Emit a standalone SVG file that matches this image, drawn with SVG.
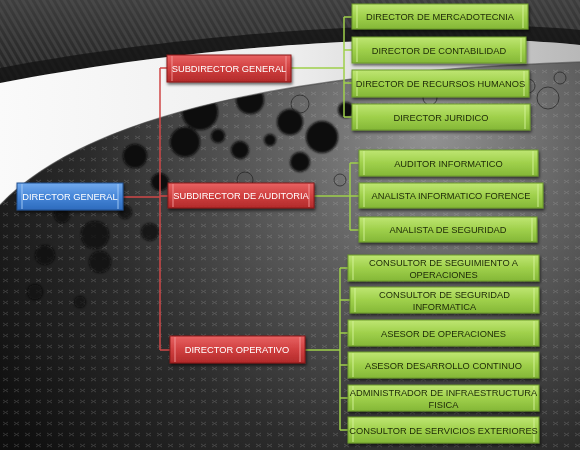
<svg xmlns="http://www.w3.org/2000/svg" width="580" height="450" viewBox="0 0 580 450">
<defs>
<radialGradient id="bgRad" cx="430" cy="130" r="520" gradientUnits="userSpaceOnUse">
<stop offset="0" stop-color="#939393"/>
<stop offset="0.3" stop-color="#606060"/>
<stop offset="0.65" stop-color="#2c2c2c"/>
<stop offset="1" stop-color="#0e0e0e"/>
</radialGradient>
<linearGradient id="topG" x1="0" y1="0" x2="0" y2="1">
<stop offset="0" stop-color="#3e3e3e"/>
<stop offset="1" stop-color="#202020"/>
</linearGradient>
<linearGradient id="whiteG" x1="0" y1="0" x2="1" y2="0">
<stop offset="0" stop-color="#fafafa"/>
<stop offset="0.5" stop-color="#eeeeee"/>
<stop offset="1" stop-color="#b8b8b8"/>
</linearGradient>
<pattern id="tex" width="11" height="11" patternUnits="userSpaceOnUse">
<path d="M3,4 L8,7 M8,4 L3,7" stroke="#bdbdbd" stroke-width="1" opacity="0.22"/>
</pattern>
<pattern id="stripes" width="6" height="6" patternUnits="userSpaceOnUse" patternTransform="rotate(-30)">
<rect width="3" height="6" fill="#5a5a5a" opacity="0.35"/>
</pattern>
<linearGradient id="gG" x1="0" y1="0" x2="0" y2="1">
<stop offset="0" stop-color="#bfe673"/>
<stop offset="0.5" stop-color="#9fd04b"/>
<stop offset="1" stop-color="#84b737"/>
</linearGradient>
<linearGradient id="rG" x1="0" y1="0" x2="0" y2="1">
<stop offset="0" stop-color="#e86262"/>
<stop offset="0.5" stop-color="#d04040"/>
<stop offset="1" stop-color="#b22a2a"/>
</linearGradient>
<linearGradient id="bG" x1="0" y1="0" x2="0" y2="1">
<stop offset="0" stop-color="#72aaee"/>
<stop offset="0.5" stop-color="#4686d8"/>
<stop offset="1" stop-color="#2d6bbd"/>
</linearGradient>
<filter id="sh" x="-10%" y="-30%" width="120%" height="170%">
<feDropShadow dx="1" dy="2" stdDeviation="1.5" flood-color="#000" flood-opacity="0.6"/>
</filter>
<filter id="soft"><feGaussianBlur stdDeviation="1.2"/></filter>
</defs>
<style>
.g rect{fill:url(#gG);stroke:#6c9a2a;stroke-width:1}
.r rect{fill:url(#rG);stroke:#8a1c1c;stroke-width:1}
.b rect{fill:url(#bG);stroke:#1f4f8f;stroke-width:1}
.node{filter:url(#sh)}
.bev{stroke-width:1.2;opacity:0.75}
.g .bev{stroke:#d6f39c}
.r .bev{stroke:#f49a9a}
.b .bev{stroke:#a8cdf7}
text{font-family:"Liberation Sans",Arial,sans-serif;font-size:9.3px;text-anchor:middle}
.g text{fill:#1c2808}
.r text,.b text{fill:#ffffff}
.cr{fill:none;stroke:#d04848;stroke-width:1.5}
.cg{fill:none;stroke:#9fd04b;stroke-width:1.5}
</style>

<!-- background -->
<rect width="580" height="450" fill="url(#bgRad)"/>
<rect width="580" height="450" fill="url(#tex)"/>
<g filter="url(#soft)" fill="#0a0a0a">
<circle cx="200" cy="112" r="18"/>
<circle cx="250" cy="100" r="14"/>
<circle cx="185" cy="142" r="15"/>
<circle cx="135" cy="156" r="12"/>
<circle cx="160" cy="182" r="9"/>
<circle cx="290" cy="122" r="13"/>
<circle cx="322" cy="137" r="16"/>
<circle cx="346" cy="110" r="8"/>
<circle cx="240" cy="150" r="9"/>
<circle cx="300" cy="162" r="10"/>
<circle cx="218" cy="136" r="7"/>
<circle cx="270" cy="140" r="6"/>
<circle cx="95" cy="235" r="14" opacity="0.8"/>
<circle cx="100" cy="262" r="11" opacity="0.8"/>
<circle cx="45" cy="255" r="10" opacity="0.8"/>
<circle cx="62" cy="215" r="8" opacity="0.8"/>
<circle cx="150" cy="232" r="9" opacity="0.8"/>
<circle cx="35" cy="292" r="8" opacity="0.7"/>
<circle cx="80" cy="302" r="6" opacity="0.7"/>
<circle cx="125" cy="212" r="7" opacity="0.8"/>
</g>
<g fill="none" stroke="#222" stroke-width="1" opacity="0.7">
<circle cx="548" cy="98" r="11"/>
<circle cx="528" cy="86" r="7"/>
<circle cx="560" cy="78" r="6"/>
<circle cx="300" cy="104" r="9"/>
<circle cx="430" cy="98" r="7"/>
<circle cx="245" cy="180" r="8"/>
<circle cx="340" cy="180" r="6"/>
</g>
<path d="M0,0 H580 V45 C480,34 250,35 0,83 Z" fill="url(#topG)"/>
<path d="M0,0 H580 V45 C480,34 250,35 0,83 Z" fill="url(#stripes)"/>
<path d="M580,30 C480,20 250,22 0,68 V83 C250,35 480,34 580,45 Z" fill="#141414" opacity="0.8"/>
<path d="M0,83 C250,35 480,34 580,45 V62 C350,70 100,100 0,205 Z" fill="url(#whiteG)"/>
<path d="M580,62 C350,70 100,100 0,205" fill="none" stroke="#4a4a4a" stroke-width="1.5" opacity="0.6"/>

<!-- connectors -->
<g id="connectors">
<path class="cr" d="M123,197 H160 M160,68 V350 M160,68 H167 M160,196 H168 M160,350 H170"/>
<path class="cg" d="M291,68 H344 M344,17 V117 M344,17 H352 M344,50 H352 M344,83 H352 M344,117 H352"/>
<path class="cg" d="M314,196 H350 M350,163 V230 M350,163 H359 M350,196 H359 M350,230 H359"/>
<path class="cg" d="M305,350 H340 M340,268 V430 M340,268 H348 M340,300 H350 M340,333 H348 M340,365 H348 M340,398 H348 M340,430 H348"/>
</g>

<!-- nodes -->
<g id="director-general" class="node b">
<rect x="17" y="183" width="106" height="27"/>
<path class="bev" d="M22,184 V209 M118,184 V209"/>
<text x="70" y="200">DIRECTOR GENERAL</text>
</g>
<g id="subdirector-general" class="node r">
<rect x="167" y="55" width="124" height="27"/>
<path class="bev" d="M172,56 V81 M286,56 V81"/>
<text x="229" y="72">SUBDIRECTOR GENERAL</text>
</g>
<g id="subdirector-auditoria" class="node r">
<rect x="168" y="183" width="146" height="25"/>
<path class="bev" d="M173,184 V207 M309,184 V207"/>
<text x="241" y="199">SUBDIRECTOR DE AUDITORIA</text>
</g>
<g id="director-operativo" class="node r">
<rect x="170" y="336" width="135" height="27"/>
<path class="bev" d="M175,337 V362 M300,337 V362"/>
<text x="237" y="353">DIRECTOR OPERATIVO</text>
</g>

<g id="dir-mercadotecnia" class="node g">
<rect x="352" y="4" width="176" height="25"/>
<path class="bev" d="M357,5 V28 M523,5 V28"/>
<text x="440" y="20">DIRECTOR DE MERCADOTECNIA</text>
</g>
<g id="dir-contabilidad" class="node g">
<rect x="352" y="37" width="174" height="26"/>
<path class="bev" d="M357,38 V62 M521,38 V62"/>
<text x="439" y="53.5">DIRECTOR DE CONTABILIDAD</text>
</g>
<g id="dir-rrhh" class="node g">
<rect x="352" y="70" width="177" height="27"/>
<path class="bev" d="M357,71 V96 M524,71 V96"/>
<text x="440.5" y="87">DIRECTOR DE RECURSOS HUMANOS</text>
</g>
<g id="dir-juridico" class="node g">
<rect x="352" y="104" width="178" height="26"/>
<path class="bev" d="M357,105 V129 M525,105 V129"/>
<text x="441" y="120.5">DIRECTOR JURIDICO</text>
</g>

<g id="auditor-informatico" class="node g">
<rect x="359" y="150" width="179" height="26"/>
<path class="bev" d="M364,151 V175 M533,151 V175"/>
<text x="448.5" y="166.5">AUDITOR INFORMATICO</text>
</g>
<g id="analista-forence" class="node g">
<rect x="359" y="183" width="184" height="25"/>
<path class="bev" d="M364,184 V207 M538,184 V207"/>
<text x="451" y="199">ANALISTA INFORMATICO FORENCE</text>
</g>
<g id="analista-seguridad" class="node g">
<rect x="359" y="217" width="178" height="25"/>
<path class="bev" d="M364,218 V241 M532,218 V241"/>
<text x="448" y="233">ANALISTA DE SEGURIDAD</text>
</g>

<g id="consultor-seguimiento" class="node g">
<rect x="348" y="255" width="191" height="26"/>
<path class="bev" d="M353,256 V280 M534,256 V280"/>
<text x="443.5" y="265.5">CONSULTOR DE SEGUIMIENTO A</text>
<text x="443.5" y="277.5">OPERACIONES</text>
</g>
<g id="consultor-seguridad" class="node g">
<rect x="350" y="287" width="189" height="26"/>
<path class="bev" d="M355,288 V312 M534,288 V312"/>
<text x="444.5" y="297.5">CONSULTOR DE SEGURIDAD</text>
<text x="444.5" y="309.5">INFORMATICA</text>
</g>
<g id="asesor-operaciones" class="node g">
<rect x="348" y="320" width="191" height="26"/>
<path class="bev" d="M353,321 V345 M534,321 V345"/>
<text x="443.5" y="336.5">ASESOR DE OPERACIONES</text>
</g>
<g id="asesor-desarrollo" class="node g">
<rect x="348" y="352" width="191" height="26"/>
<path class="bev" d="M353,353 V377 M534,353 V377"/>
<text x="443.5" y="368.5">ASESOR DESARROLLO CONTINUO</text>
</g>
<g id="administrador" class="node g">
<rect x="348" y="385" width="191" height="26"/>
<path class="bev" d="M353,386 V410 M534,386 V410"/>
<text x="443.5" y="395.5">ADMINISTRADOR DE INFRAESTRUCTURA</text>
<text x="443.5" y="407.5">FISICA</text>
</g>
<g id="consultor-servicios" class="node g">
<rect x="348" y="417" width="191" height="26"/>
<path class="bev" d="M353,418 V442 M534,418 V442"/>
<text x="443.5" y="433.5">CONSULTOR DE SERVICIOS EXTERIORES</text>
</g>
</svg>
